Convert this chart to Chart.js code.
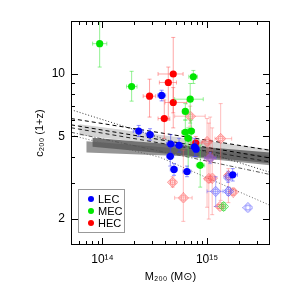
<!DOCTYPE html>
<html>
<head>
<meta charset="utf-8">
<script src="https://cdn.jsdelivr.net/npm/chart.js@4.4.1/dist/chart.umd.min.js"></script>
<style>
  html, body { margin: 0; padding: 0; background: #fff; }
</style>
</head>
<body>
<canvas id="grafico" width="291" height="291"></canvas>
<script>
// linhas: [M200, c200(1+z), xLo, xHi, yLo, yHi]
const lecCheio = [
  [3.68e14, 7.88, 3.37e14, 4.02e14, 7.42, 8.35],
  [2.22e14, 5.31, 1.97e14, 2.45e14, 5.0, 5.65],
  [2.85e14, 5.1, 2.62e14, 3.08e14, 4.8, 5.45],
  [4.49e14, 4.6, 4.1e14, 4.9e14, 4.2, 5.1],
  [5.4e14, 4.53, 4.9e14, 5.9e14, 4.2, 4.9],
  [4.45e14, 4.01, 4.1e14, 4.8e14, 3.6, 4.4],
  [4.83e14, 3.47, 4.45e14, 5.2e14, 3.25, 3.7],
  [6.43e14, 3.39, 5.9e14, 7.0e14, 3.2, 3.6],
  [7.6e14, 4.45, 7.0e14, 8.2e14, 4.0, 4.9],
  [7.84e14, 4.34, 7.2e14, 8.5e14, 4.0, 4.7],
  [1.76e15, 3.27, 1.6e15, 1.95e15, 3.05, 3.5]
];
const mecCheio = [
  [9.4e13, 14.0, 8.05e13, 1.1e14, 10.8, 20],
  [1.9e14, 8.7, 1.7e14, 2.14e14, 7.4, 10.3],
  [7.4e14, 9.7, 6.7e14, 8.1e14, 9.0, 10.4],
  [6.9e14, 7.56, 4.9e14, 9.2e14, 5.8, 9.0],
  [6.2e14, 6.6, 5.8e14, 6.6e14, 6.0, 7.2],
  [6.2e14, 5.24, 5.7e14, 6.7e14, 4.6, 6.0],
  [7.07e14, 5.31, 6.5e14, 7.6e14, 4.5, 6.0],
  [6.6e14, 4.9, 6.1e14, 7.1e14, 3.3, 5.5],
  [8.6e14, 3.63, 7.9e14, 9.5e14, 2.85, 4.55]
];
const hecCheio = [
  [2.82e14, 7.82, 2.45e14, 3.23e14, 6.2, 9.44],
  [4.26e14, 9.1, 3.5e14, 5.1e14, 6.0, 10.8],
  [4.75e14, 10.0, 3.4e14, 5.9e14, 6.5, 15.0],
  [4.75e14, 7.29, 3.96e14, 6.4e14, 5.5, 8.6],
  [3.9e14, 6.1, 3.4e14, 4.4e14, 4.9, 7.5],
  [7.8e14, 4.65, 6.9e14, 8.9e14, 4.3, 5.0]
];
const lecAberto = [
  [1.21e15, 2.72, 1.0e15, 1.42e15, 2.3, 3.2],
  [1.59e15, 3.18, 1.5e15, 1.7e15, 3.0, 3.4],
  [1.6e15, 2.72, 1.5e15, 1.7e15, 2.6, 2.85],
  [2.46e15, 2.27, null, null, null, null],
  [1.07e15, 3.94, 9.5e14, 1.22e15, 3.7, 4.2]
];
const mecAberto = [
  [1.44e15, 2.30, 1.38e15, 1.5e15, 2.2, 2.4]
];
const hecAberto = [
  [6.9e14, 6.26, 4.9e14, 9.6e14, 5.6, 7.0],
  [1.0e15, 4.72, 9.0e14, 1.1e15, 2.28, 6.1],
  [1.35e15, 4.88, 1.19e15, 1.72e15, 2.46, 7.2],
  [1.07e15, 3.94, 9.5e14, 1.2e15, 3.0, 6.2],
  [4.69e14, 3.01, 4.45e14, 4.95e14, 2.85, 3.2],
  [5.93e14, 2.53, 4.9e14, 7.2e14, 1.95, 4.3],
  [1.04e15, 3.13, 9.5e14, 1.12e15, 2.0, 5.8],
  [1.12e15, 3.15, 1.05e15, 1.2e15, 2.1, 5.5],
  [1.33e15, 2.30, 1.25e15, 1.42e15, 2.25, 2.35],
  [1.6e15, 3.24, 1.5e15, 1.7e15, 2.4, 3.5],
  [1.78e15, 2.70, 1.65e15, 1.9e15, 2.6, 2.8]
];

// curvas de modelos e faixas de simulação
const pontilhadoA = [[5e13, 6.73], [4e15, 3.36]];
const tracejado1 = [[5e13, 6.10], [4e15, 4.29]];
const tracejado2 = [[5e13, 5.69], [4e15, 3.94]];
const tracejado3 = [[5e13, 5.51], [4e15, 3.77]];
const tracoPonto = [[5e13, 5.24], [4e15, 3.28]];
const pontilhadoB = [[5e13, 5.07], [3.55e14, 3.97], [4e15, 2.33]];
const faixaClaraTopo = [[6e13, 5.72], [4e15, 4.34]];
const faixaClaraBase = [[6e13, 5.07], [4e15, 4.01]];
const faixaMediaTopo = [[7e13, 4.74], [5.5e14, 4.38], [4e15, 4.06]];
const faixaMediaBase = [[7e13, 4.19], [5.5e14, 4.03], [4e15, 3.63]];
const faixaEscuraTopo = [[8e13, 4.93], [4e15, 4.19]];
const faixaEscuraBase = [[8e13, 4.46], [4e15, 3.71]];

const xTicksMaiores = [1e14, 1e15];
const xRotulos = ['10¹⁴', '10¹⁵'];
const xTicksMenores = [6e13, 7e13, 8e13, 9e13, 2e14, 3e14, 4e14, 5e14, 6e14, 7e14, 8e14, 9e14, 2e15, 3e15];
const yTicksMaiores = [2, 5, 10];
const yTicksMenores = [3, 4, 6, 7, 8, 9];

const legendaNomes = ['LEC', 'MEC', 'HEC'];
const legendaCores = ['#0000ff', '#00e600', '#ff0000'];

const fonte = "'Liberation Sans', 'DejaVu Sans', sans-serif";
const pts = arr => arr.map(r => ({ x: r[0], y: r[1] }));

function marcadorAberto(cor) {
  const c = document.createElement('canvas');
  c.width = 11; c.height = 11;
  const g = c.getContext('2d');
  g.strokeStyle = cor;
  g.lineWidth = 1;
  g.beginPath();
  g.moveTo(5.5, 0.5); g.lineTo(10.5, 5.5); g.lineTo(5.5, 10.5); g.lineTo(0.5, 5.5);
  g.closePath();
  g.stroke();
  g.beginPath();
  g.arc(5.5, 5.5, 2.5, 0, 2 * Math.PI);
  g.stroke();
  return c;
}

function linha(dados, cor, dash, ordem) {
  return {
    type: 'line', data: pts(dados), borderColor: cor, borderWidth: 1,
    borderDash: dash, pointRadius: 0, fill: false, tension: 0, order: ordem
  };
}

function pontos(dados, cor, corErro, aberto) {
  return {
    type: 'scatter', data: pts(dados), erros: dados, corErro: corErro,
    pointStyle: aberto ? marcadorAberto(cor) : 'circle',
    pointRadius: aberto ? 5 : 3.6,
    backgroundColor: cor, borderWidth: 0, order: aberto ? 3 : 1
  };
}

const barrasErro = {
  id: 'barrasErro',
  beforeDatasetDraw(chart, args) {
    const ds = chart.data.datasets[args.index];
    if (!ds.erros) return;
    const { ctx, chartArea: a, scales: { x, y } } = chart;
    ctx.save();
    ctx.beginPath();
    ctx.rect(a.left, a.top, a.right - a.left, a.bottom - a.top);
    ctx.clip();
    ctx.strokeStyle = ds.corErro;
    ctx.lineWidth = 1;
    ds.erros.forEach(r => {
      if (r[2] == null) return;
      const px = x.getPixelForValue(r[0]), py = y.getPixelForValue(r[1]);
      const x0 = x.getPixelForValue(r[2]), x1 = x.getPixelForValue(r[3]);
      const y0 = y.getPixelForValue(r[4]), y1 = y.getPixelForValue(r[5]);
      ctx.beginPath();
      ctx.moveTo(x0, py); ctx.lineTo(x1, py);
      ctx.moveTo(x0, py - 2); ctx.lineTo(x0, py + 2);
      ctx.moveTo(x1, py - 2); ctx.lineTo(x1, py + 2);
      ctx.moveTo(px, y0); ctx.lineTo(px, y1);
      ctx.moveTo(px - 2, y0); ctx.lineTo(px + 2, y0);
      ctx.moveTo(px - 2, y1); ctx.lineTo(px + 2, y1);
      ctx.stroke();
    });
    ctx.restore();
  }
};

const moldura = {
  id: 'moldura',
  afterDatasetsDraw(chart) {
    const { ctx, chartArea: a, scales: { x, y } } = chart;
    ctx.save();
    ctx.strokeStyle = '#000';
    ctx.lineWidth = 1;
    ctx.strokeRect(Math.round(a.left) + 0.5, Math.round(a.top) + 0.5,
      Math.round(a.right - a.left) - 1, Math.round(a.bottom - a.top) - 1);
    ctx.beginPath();
    const tx = (v, len) => {
      const p = Math.round(x.getPixelForValue(v)) + 0.5;
      ctx.moveTo(p, a.bottom); ctx.lineTo(p, a.bottom - len);
      ctx.moveTo(p, a.top); ctx.lineTo(p, a.top + len);
    };
    const ty = (v, len) => {
      const p = Math.round(y.getPixelForValue(v)) + 0.5;
      ctx.moveTo(a.left, p); ctx.lineTo(a.left + len, p);
      ctx.moveTo(a.right, p); ctx.lineTo(a.right - len, p);
    };
    xTicksMaiores.forEach(v => tx(v, 7));
    xTicksMenores.forEach(v => tx(v, 4));
    yTicksMaiores.forEach(v => ty(v, 7));
    yTicksMenores.forEach(v => ty(v, 4));
    ctx.stroke();
    ctx.restore();
  }
};

const legendaCaixa = {
  id: 'legendaCaixa',
  afterDraw(chart) {
    const { ctx, chartArea: a } = chart;
    const x0 = a.left + 7, y0 = a.bottom - 56;
    ctx.save();
    ctx.strokeStyle = '#999';
    ctx.lineWidth = 1;
    ctx.strokeRect(x0 + 0.5, y0 + 0.5, 46, 43);
    ctx.font = '11px ' + fonte;
    ctx.textBaseline = 'middle';
    legendaNomes.forEach((nome, i) => {
      const cy = y0 + 10 + i * 12;
      ctx.fillStyle = legendaCores[i];
      ctx.beginPath();
      ctx.arc(x0 + 13, cy, 3, 0, 2 * Math.PI);
      ctx.fill();
      ctx.fillStyle = '#000';
      ctx.fillText(nome, x0 + 20, cy + 0.5);
    });
    ctx.restore();
  }
};

const faixa = (topo, base, cor, ordem) => [
  { type: 'line', data: pts(base), borderWidth: 0, pointRadius: 0, fill: false, tension: 0, order: ordem },
  { type: 'line', data: pts(topo), borderWidth: 0, pointRadius: 0, tension: 0, order: ordem,
    fill: '-1', backgroundColor: cor }
];

new Chart(document.getElementById('grafico'), {
  type: 'scatter',
  data: {
    datasets: [
      pontos(lecCheio, '#0000ff', 'rgba(60,60,255,0.55)', false),
      pontos(mecCheio, '#00e600', 'rgba(60,230,60,0.55)', false),
      pontos(hecCheio, '#ff0000', 'rgba(255,60,60,0.45)', false),
      pontos(lecAberto, 'rgba(90,90,255,0.75)', 'rgba(90,90,255,0.45)', true),
      pontos(mecAberto, 'rgba(60,220,60,0.8)', 'rgba(60,220,60,0.5)', true),
      pontos(hecAberto, 'rgba(255,90,90,0.8)', 'rgba(255,90,90,0.4)', true),
      linha(pontilhadoA, '#333', [1, 2], 5),
      linha(tracejado1, '#000', [4, 3], 5),
      linha(tracejado2, '#000', [4, 3], 5),
      linha(tracejado3, '#222', [4, 3], 5),
      linha(tracoPonto, '#555', [4, 2, 1, 2], 5),
      linha(pontilhadoB, '#666', [1, 2], 5),
      ...faixa(faixaEscuraTopo, faixaEscuraBase, 'rgba(90,90,90,0.85)', 7),
      ...faixa(faixaMediaTopo, faixaMediaBase, 'rgb(150,150,150)', 8),
      ...faixa(faixaClaraTopo, faixaClaraBase, 'rgb(212,212,212)', 9)
    ]
  },
  options: {
    responsive: false,
    animation: false,
    devicePixelRatio: 1,
    layout: { padding: { top: 21, right: 21, left: 0, bottom: 0 } },
    plugins: { legend: { display: false }, tooltip: { enabled: false } },
    scales: {
      x: {
        type: 'logarithmic', position: 'bottom', min: 5e13, max: 4e15,
        grid: { display: false, drawTicks: false }, border: { display: false },
        afterBuildTicks: s => { s.ticks = xTicksMaiores.map(v => ({ value: v })); },
        afterFit: s => { s.height = 46; },
        ticks: {
          color: '#000', font: { family: fonte, size: 12 }, padding: 7, maxRotation: 0, autoSkip: false,
          callback: v => xRotulos[xTicksMaiores.indexOf(v)]
        },
        title: { display: true, text: 'M₂₀₀ (M⊙)', color: '#000', font: { family: fonte, size: 11 }, padding: { top: 0, bottom: 7 } }
      },
      y: {
        type: 'logarithmic', position: 'left', min: 1.5, max: 18,
        grid: { display: false, drawTicks: false }, border: { display: false },
        afterBuildTicks: s => { s.ticks = yTicksMaiores.map(v => ({ value: v })); },
        afterFit: s => { s.width = 71; },
        ticks: {
          color: '#000', font: { family: fonte, size: 12 }, padding: 6, autoSkip: false,
          callback: v => String(v)
        },
        title: { display: true, text: 'c₂₀₀ (1+z)', color: '#000', font: { family: fonte, size: 11 }, padding: { top: 33, bottom: 0 } }
      }
    }
  },
  plugins: [barrasErro, moldura, legendaCaixa]
});
</script>
</body>
</html>
